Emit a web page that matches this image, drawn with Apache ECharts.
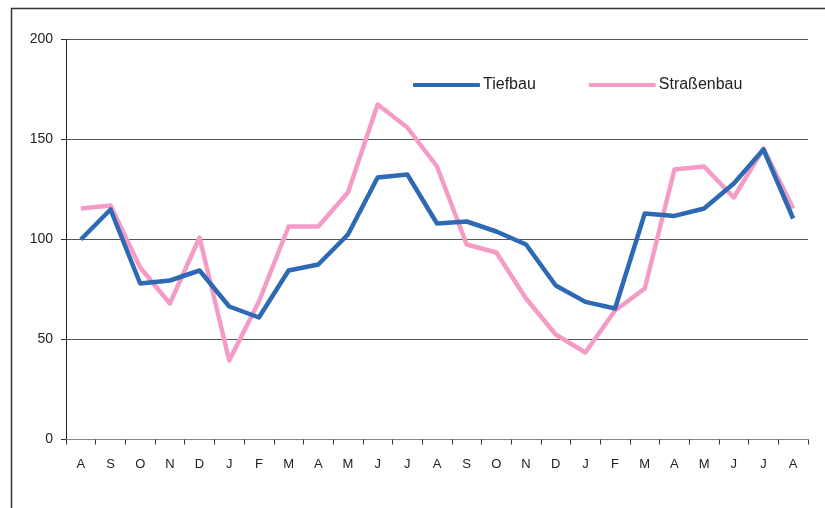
<!DOCTYPE html>
<html>
<head>
<meta charset="utf-8">
<script src="https://cdn.jsdelivr.net/npm/echarts@6/dist/echarts.min.js"></script>
<style>
html,body{margin:0;padding:0;background:#fff;}
#chart{width:825px;height:508px;}
</style>
</head>
<body>
<div id="chart"></div>
<script>
var categories = ['A','S','O','N','D','J','F','M','A','M','J','J','A','S','O','N','D','J','F','M','A','M','J','J','A'];
var tiefbau = [100,115,78,79.5,84.5,66.5,61,84.5,87.5,102.5,131,132.5,108,109,104,97.5,77,68.8,65.5,113,111.8,115.5,128,145,110.5];
var strassenbau = [115.5,117,86,68,101,39.5,69,106.5,106.5,123.5,167.5,156,136.5,97.5,93.5,70.5,52.5,43.5,64.5,75.5,135,136.5,121,145.5,115.5];
var yTicks = [0,50,100,150,200];

var chart = echarts.init(document.getElementById('chart'), null, {renderer:'canvas'});
var font = 'Liberation Sans, Arial, sans-serif';
chart.setOption({
  animation:false,
  backgroundColor:'#fff',
  graphic:[{
    type:'rect', silent:true, z:-1,
    shape:{x:11.5,y:8.5,width:840,height:520},
    style:{fill:'none',stroke:'#333',lineWidth:1.5}
  }],
  grid:{left:66,right:17,top:39.5,bottom:68.5,containLabel:false},
  legend:{
    left:413, top:77, padding:0,
    itemWidth:67, itemHeight:4, itemGap:53,
    icon:'roundRect',
    textStyle:{fontFamily:font,fontSize:16,color:'#222',padding:[0,0,0,-2]},
    data:['Tiefbau','Straßenbau']
  },
  xAxis:{
    type:'category', data:categories, boundaryGap:true,
    axisLine:{lineStyle:{color:'#888',width:1}},
    axisTick:{show:true,length:5,lineStyle:{color:'#333'},alignWithLabel:false},
    axisLabel:{fontFamily:font,fontSize:13,color:'#222',margin:18,interval:0},
    splitLine:{show:false}
  },
  yAxis:{
    type:'value', min:yTicks[0], max:yTicks[yTicks.length-1], interval:50,
    axisLine:{show:true,lineStyle:{color:'#222',width:1}},
    axisTick:{show:true,length:5,lineStyle:{color:'#333'}},
    axisLabel:{fontFamily:font,fontSize:14,color:'#222',margin:13},
    splitLine:{show:true,lineStyle:{color:'#555',width:1}}
  },
  series:[
    {name:'Tiefbau',type:'line',data:tiefbau,symbol:'none',
     lineStyle:{color:'#2E69B4',width:4.5,join:'round'},itemStyle:{color:'#2E69B4'},z:3},
    {name:'Straßenbau',type:'line',data:strassenbau,symbol:'none',
     lineStyle:{color:'#F59CC6',width:4.5,join:'round'},itemStyle:{color:'#F59CC6'},z:2}
  ]
});
</script>
</body>
</html>
